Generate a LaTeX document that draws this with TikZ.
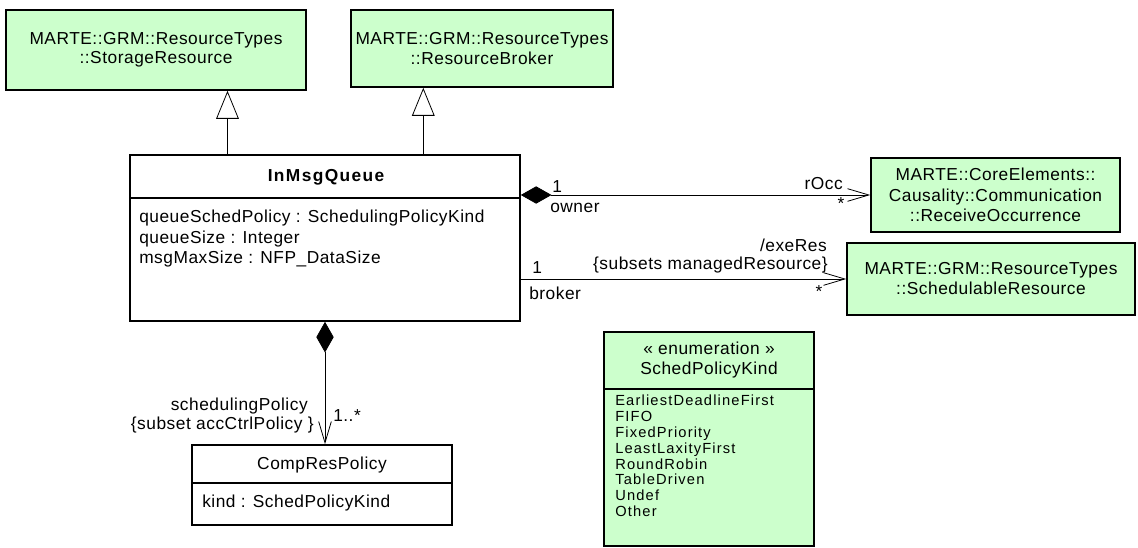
\documentclass[tikz,border=0pt]{standalone}
\usepackage{fontspec}
\setmainfont{Liberation Sans}[LetterSpace=3]
\usetikzlibrary{arrows.meta,calc}

\definecolor{classgreen}{HTML}{CCFFCC}

\tikzset{
	umlbox/.style={draw, line width=1.2pt, fill=classgreen, align=center, inner sep=0pt, font=\fontsize{13}{14.5}\selectfont},
	plainbox/.style={draw, line width=1.2pt, fill=white, inner sep=0pt},
	lbl/.style={inner sep=0pt, font=\fontsize{13}{14}\selectfont},
	generalize/.style={line width=0.6pt, -{Triangle[open,length=21pt,width=17pt]}},
	navigate/.style={line width=0.6pt, -{Straight Barb[length=16pt,width=9.5pt]}},
	compose/.style={line width=0.6pt, {Diamond[length=23pt,width=13pt]}-{Straight Barb[length=16pt,width=9.5pt]}},
}

\begin{document}
\begin{tikzpicture}[x=0.75pt, y=-0.75pt]
	\useasboundingbox (0,0) rectangle (1138,548);

	% super classes
	\node[umlbox, minimum width=225pt, minimum height=60pt] (storage) at (156,50) {MARTE::GRM::ResourceTypes\\::StorageResource};
	\node[umlbox, minimum width=196.5pt, minimum height=57.75pt] (broker) at (482,48.5) {MARTE::GRM::ResourceTypes\\::ResourceBroker};

	% the queue
	\node[plainbox, minimum width=292.5pt, minimum height=124.5pt] (queue) at (325,238) {};
	\node[lbl, font=\fontsize{13}{14}\selectfont\bfseries\addfontfeature{LetterSpace=8}] (queuename) at (326,177) {InMsgQueue};
	\draw[line width=1.2pt] ($(queue.north west)+(0,44)$) -- ($(queue.north east)+(0,44)$);
	\node[lbl, anchor=north west, align=left, font=\fontsize{13}{15.4}\selectfont] (queueattr) at (139,210)
		{queueSchedPolicy : SchedulingPolicyKind\\queueSize : Integer\\msgMaxSize : NFP\_DataSize};

	% associated classes
	\node[umlbox, minimum width=186.75pt, minimum height=55.5pt, font=\fontsize{13}{15.5}\selectfont] (receive) at (995.5,195)
		{MARTE::CoreElements::\\Causality::Communication\\::ReceiveOccurrence};
	\node[umlbox, minimum width=216pt, minimum height=54pt, font=\fontsize{13}{15}\selectfont] (sched) at (991,279)
		{MARTE::GRM::ResourceTypes\\::SchedulableResource};

	% policy
	\node[plainbox, minimum width=195pt, minimum height=60pt] (policy) at (322,485) {};
	\node[lbl] (policyname) at (322,465) {CompResPolicy};
	\draw[line width=1.2pt] ($(policy.north west)+(0,39)$) -- ($(policy.north east)+(0,39)$);
	\node[lbl, anchor=west] (policyattr) at (202,503) {kind : SchedPolicyKind};

	% enumeration
	\node[umlbox, minimum width=157.5pt, minimum height=160.5pt] (enumkind) at (709,439) {};
	\node[lbl, align=center, font=\fontsize{13}{15}\selectfont] (enumname) at (709,360) {« enumeration »\\SchedPolicyKind};
	\draw[line width=1.2pt] ($(enumkind.north west)+(0,58)$) -- ($(enumkind.north east)+(0,58)$);
	\node[lbl, anchor=north west, align=left, font=\fontsize{11}{11.85}\selectfont\addfontfeature{LetterSpace=8}] (enumlits) at (615,395)
		{EarliestDeadlineFirst\\FIFO\\FixedPriority\\LeastLaxityFirst\\RoundRobin\\TableDriven\\Undef\\Other};

	% generalizations
	\coordinate (g1) at ($(queue.north west)!0.251!(queue.north east)$);
	\coordinate (g2) at ($(queue.north west)!0.751!(queue.north east)$);
	\draw[generalize] (g1) -- (g1 |- storage.south);
	\draw[generalize] (g2) -- (g2 |- broker.south);

	% associations
	\draw[compose] (receive.west -| queue.east) -- (receive.west);
	\draw[navigate] (sched.west -| queue.east) -- (sched.west);
	\draw[compose] (queue.south) -- (queue.south |- policy.north);

	% role names and multiplicities
	\node[lbl, anchor=west] (ownmult) at (552,187) {1};
	\node[lbl, anchor=west] (ownrole) at (550,208) {owner};
	\node[lbl, anchor=east] (occrole) at (843,184) {rOcc};
	\node[lbl] (occmult) at (841,204) {*};
	\node[lbl, anchor=west] (brokmult) at (532,268) {1};
	\node[lbl, anchor=west] (brokrole) at (529,293) {broker};
	\node[lbl, anchor=east] (exerole) at (827,245) {/exeRes};
	\node[lbl, anchor=east] (exesubset) at (828,265) {\{subsets managedResource\}};
	\node[lbl] (exemult) at (819,292) {*};
	\node[lbl, anchor=east] (polrole) at (308,406) {schedulingPolicy};
	\node[lbl, anchor=east] (polsubset) at (314,425) {\{subset accCtrlPolicy \}};
	\node[lbl, anchor=west] (polmult) at (333,416) {1..*};
\end{tikzpicture}
\end{document}
